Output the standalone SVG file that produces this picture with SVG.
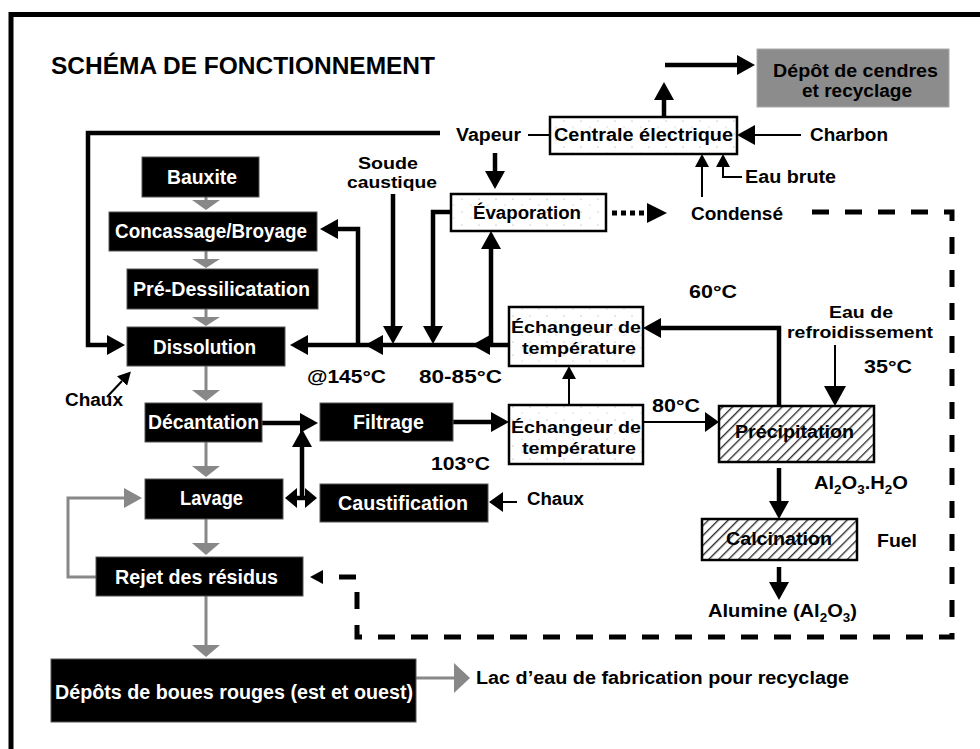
<svg xmlns="http://www.w3.org/2000/svg" width="980" height="749" viewBox="0 0 980 749">
<style>
text{font-family:"Liberation Sans",Arial,sans-serif;font-weight:bold;}
.nb{fill:#000;stroke:#555;stroke-width:1;}
.nt{fill:#fff;font-size:20px;}
.at{fill:#000;font-size:18px;}
.sm{font-size:16.5px;}
.wb{fill:url(#stip);stroke:#000;stroke-width:2.5;}
.hb{fill:url(#hatch);stroke:#000;stroke-width:2.5;}
.ln{fill:none;stroke:#000;stroke-width:4.5;}
.tn{fill:none;stroke:#000;stroke-width:2;}
.gl{fill:none;stroke:#888;stroke-width:3;}
.ds{fill:none;stroke:#000;stroke-width:5;stroke-dasharray:17 16;}
.dt{fill:none;stroke:#000;stroke-width:5;stroke-dasharray:5 4;}
.gh{fill:#888;}
</style>
<defs>
<marker id="ah" markerUnits="userSpaceOnUse" viewBox="0 0 18 20" markerWidth="18" markerHeight="20" refX="0" refY="10" orient="auto"><path d="M0,0 L18,10 L0,20 z" fill="#000"/></marker>
<marker id="ahs" markerUnits="userSpaceOnUse" viewBox="0 0 13 14" markerWidth="13" markerHeight="14" refX="0" refY="7" orient="auto"><path d="M0,0 L13,7 L0,14 z" fill="#000"/></marker>
<marker id="ahm" markerUnits="userSpaceOnUse" viewBox="0 0 14 20" markerWidth="14" markerHeight="20" refX="0" refY="10" orient="auto"><path d="M0,0 L14,10 L0,20 z" fill="#000"/></marker>
<marker id="ahl" markerUnits="userSpaceOnUse" viewBox="0 0 20 22" markerWidth="20" markerHeight="22" refX="0" refY="11" orient="auto"><path d="M0,0 L20,11 L0,22 z" fill="#000"/></marker>
<marker id="ahg" markerUnits="userSpaceOnUse" viewBox="0 0 18 20" markerWidth="18" markerHeight="20" refX="0" refY="10" orient="auto"><path d="M0,0 L18,10 L0,20 z" fill="#888"/></marker>
<pattern id="stip" width="17" height="13" patternUnits="userSpaceOnUse"><rect width="17" height="13" fill="#fff"/><circle cx="3" cy="4" r="0.6" fill="#999"/><circle cx="12" cy="10" r="0.5" fill="#aaa"/></pattern>
<pattern id="hatch" width="7" height="7" patternUnits="userSpaceOnUse" patternTransform="rotate(45)"><rect width="7" height="7" fill="#fff"/><line x1="0.7" y1="0" x2="0.7" y2="7" stroke="#222" stroke-width="1.3"/></pattern>
</defs>
<rect width="980" height="749" fill="#fff"/>
<path d="M11,749 V14.5 H980" fill="none" stroke="#000" stroke-width="5"/>
<text x="51" y="74" font-size="23" textLength="384" lengthAdjust="spacingAndGlyphs" fill="#000">SCHÉMA DE FONCTIONNEMENT</text>

<g id="connectors">
<path class="ln" d="M440,133 H88 V345 H107" marker-end="url(#ah)"/>
<path class="tn" d="M528,135 H550"/>
<path class="ln" d="M495,153 V171" marker-end="url(#ah)"/>
<path class="ln" d="M664,117 V100" marker-end="url(#ah)"/>
<path class="ln" d="M665,65 H737" marker-end="url(#ah)"/>
<path class="tn" d="M801,135 H755" stroke-width="2.5" marker-end="url(#ah)"/>
<path class="tn" d="M702,197 V167" marker-end="url(#ahs)"/>
<path class="tn" d="M742,177 H723 V167" marker-end="url(#ahs)"/>
<path class="dt" d="M612,213 H647"/>
<polygon points="647,203 667,213 647,223" fill="#000"/>
<path class="ds" d="M812,212 H952 V637 H357 V577 H323" marker-end="url(#ahs)"/>
<path class="ln" d="M509,345 H308" marker-end="url(#ah)"/>
<polygon points="365,345 383,335 383,355" fill="#000"/>
<polygon points="472,345 490,335 490,355" fill="#000"/>
<path class="ln" d="M358,345 V229 H338" marker-end="url(#ah)"/>
<path class="ln" d="M393,194 V326" marker-end="url(#ah)"/>
<path class="ln" d="M452,212 H433 V326" marker-end="url(#ah)"/>
<path class="ln" d="M491,345 V249" marker-end="url(#ah)"/>
<path class="ln" d="M779,406 V328 H661" stroke-width="5" marker-end="url(#ah)"/>
<path class="tn" d="M835,345 V386" marker-end="url(#ahl)"/>
<path class="tn" d="M569,405 V379" marker-end="url(#ahs)"/>
<path class="tn" d="M643,422 H705" marker-end="url(#ahm)"/>
<path class="ln" d="M453,422 H491" stroke-width="5" marker-end="url(#ah)"/>
<path class="ln" d="M779,468 V501" marker-end="url(#ah)"/>
<path class="ln" d="M779,567 V582" marker-end="url(#ah)"/>
<path class="ln" d="M262,423 H300" marker-end="url(#ah)"/>
<path class="ln" d="M302,500 V447" marker-end="url(#ah)"/>
<path class="ln" d="M297,498 H307"/>
<polygon points="285,498 297,488 297,508" fill="#000"/>
<polygon points="317,498 305,488 305,508" fill="#000"/>
<path class="tn" d="M517,502 H503" stroke-width="2.5" marker-end="url(#ahm)"/>
<path class="tn" d="M107,397 L122,381" marker-end="url(#ahs)"/>
<path class="gl" d="M206,197 V201"/>
<polygon class="gh" points="192,200 220,200 206,210"/>
<path class="gl" d="M206,251 V260"/>
<polygon class="gh" points="192,259 220,259 206,268"/>
<path class="gl" d="M206,309 V318"/>
<polygon class="gh" points="192,317 220,317 206,326"/>
<path class="gl" d="M206,366 V391"/>
<polygon class="gh" points="192,390 220,390 206,401"/>
<path class="gl" d="M206,442 V467"/>
<polygon class="gh" points="192,466 220,466 206,477"/>
<path class="gl" d="M206,519 V544"/>
<polygon class="gh" points="192,543 220,543 206,555"/>
<path class="gl" d="M206,596 V646"/>
<polygon class="gh" points="192,645 220,645 206,657"/>
<path class="gl" d="M96,577 H68 V498 H124" marker-end="url(#ahg)"/>
<path class="gl" d="M416,678 H455"/>
<polygon class="gh" points="454,663 470,678 454,693"/>
</g>

<g id="bauxite"><rect class="nb" x="142" y="157" width="117" height="40"/><text class="nt" x="167" y="184" textLength="70" lengthAdjust="spacingAndGlyphs">Bauxite</text></g>
<g id="concassage"><rect class="nb" x="109" y="212" width="208" height="39"/><text class="nt" x="115" y="238" textLength="192" lengthAdjust="spacingAndGlyphs">Concassage/Broyage</text></g>
<g id="predessil"><rect class="nb" x="127" y="269" width="191" height="40"/><text class="nt" x="133" y="296" textLength="177" lengthAdjust="spacingAndGlyphs">Pré-Dessilicatation</text></g>
<g id="dissolution"><rect class="nb" x="127" y="327" width="158" height="39"/><text class="nt" x="153" y="354" textLength="103" lengthAdjust="spacingAndGlyphs">Dissolution</text></g>
<g id="decantation"><rect class="nb" x="145" y="403" width="117" height="39"/><text class="nt" x="148" y="429" textLength="111" lengthAdjust="spacingAndGlyphs">Décantation</text></g>
<g id="filtrage"><rect class="nb" x="320" y="403" width="133" height="38"/><text class="nt" x="353" y="429" textLength="71" lengthAdjust="spacingAndGlyphs">Filtrage</text></g>
<g id="lavage"><rect class="nb" x="145" y="479" width="138" height="40"/><text class="nt" x="180" y="505" textLength="63" lengthAdjust="spacingAndGlyphs">Lavage</text></g>
<g id="caustification"><rect class="nb" x="320" y="484" width="168" height="38"/><text class="nt" x="338" y="510" textLength="130" lengthAdjust="spacingAndGlyphs">Caustification</text></g>
<g id="rejet"><rect class="nb" x="96" y="557" width="207" height="39"/><text class="nt" x="115" y="584" textLength="163" lengthAdjust="spacingAndGlyphs">Rejet des résidus</text></g>
<g id="depots"><rect class="nb" x="51" y="659" width="365" height="63"/><text class="nt" x="55" y="699" textLength="358" lengthAdjust="spacingAndGlyphs">Dépôts de boues rouges (est et ouest)</text></g>

<g id="cendres"><rect x="757" y="49" width="192" height="58" fill="#8c8c8c" stroke="#aaa" stroke-width="1"/><text class="at" x="773" y="77" textLength="165" lengthAdjust="spacingAndGlyphs">Dépôt de cendres</text><text class="at" x="802" y="97" textLength="110" lengthAdjust="spacingAndGlyphs">et recyclage</text></g>
<g id="centrale"><rect class="wb" x="550" y="117" width="187" height="37"/><text class="at" x="554" y="141" textLength="179" lengthAdjust="spacingAndGlyphs">Centrale électrique</text></g>
<g id="evaporation"><rect class="wb" x="451" y="194" width="155" height="37"/><text class="at" x="473" y="219" textLength="108" lengthAdjust="spacingAndGlyphs">Évaporation</text></g>
<g id="echangeur1"><rect class="wb" x="509" y="307" width="134" height="59"/><text class="at sm" x="511" y="333" textLength="130" lengthAdjust="spacingAndGlyphs">Échangeur de</text><text class="at sm" x="522" y="354" textLength="114" lengthAdjust="spacingAndGlyphs">température</text></g>
<g id="echangeur2"><rect class="wb" x="509" y="405" width="134" height="59"/><text class="at sm" x="511" y="433" textLength="130" lengthAdjust="spacingAndGlyphs">Échangeur de</text><text class="at sm" x="522" y="454" textLength="114" lengthAdjust="spacingAndGlyphs">température</text></g>
<g id="precipitation"><rect class="hb" x="719" y="406" width="155" height="56"/><text class="at" x="735" y="438" textLength="119" lengthAdjust="spacingAndGlyphs">Précipitation</text></g>
<g id="calcination"><rect class="hb" x="702" y="519" width="155" height="41"/><text class="at" x="726" y="545" textLength="106" lengthAdjust="spacingAndGlyphs">Calcination</text></g>

<g id="labels">
<text class="at" x="456" y="141" textLength="65" lengthAdjust="spacingAndGlyphs">Vapeur</text>
<text class="at" x="810" y="141" textLength="78" lengthAdjust="spacingAndGlyphs">Charbon</text>
<text class="at" x="745" y="183" textLength="91" lengthAdjust="spacingAndGlyphs">Eau brute</text>
<text class="at" x="691" y="220" textLength="92" lengthAdjust="spacingAndGlyphs">Condensé</text>
<text class="at sm" x="358" y="169" textLength="60" lengthAdjust="spacingAndGlyphs">Soude</text>
<text class="at sm" x="347" y="188" textLength="90" lengthAdjust="spacingAndGlyphs">caustique</text>
<text class="at" x="307" y="383" textLength="79" lengthAdjust="spacingAndGlyphs">@145°C</text>
<text class="at" x="419" y="383" textLength="83" lengthAdjust="spacingAndGlyphs">80-85°C</text>
<text class="at" x="431" y="470" textLength="59" lengthAdjust="spacingAndGlyphs">103°C</text>
<text class="at" x="65" y="406" textLength="58" lengthAdjust="spacingAndGlyphs">Chaux</text>
<text class="at" x="689" y="298" textLength="48" lengthAdjust="spacingAndGlyphs">60°C</text>
<text class="at sm" x="829" y="318" textLength="64" lengthAdjust="spacingAndGlyphs">Eau de</text>
<text class="at sm" x="787" y="338" textLength="146" lengthAdjust="spacingAndGlyphs">refroidissement</text>
<text class="at" x="864" y="373" textLength="48" lengthAdjust="spacingAndGlyphs">35°C</text>
<text class="at" x="652" y="412" textLength="48" lengthAdjust="spacingAndGlyphs">80°C</text>
<text class="at" x="814" y="489" textLength="94" lengthAdjust="spacingAndGlyphs">Al<tspan dy="5" font-size="12">2</tspan><tspan dy="-5">O</tspan><tspan dy="5" font-size="12">3</tspan><tspan dy="-5">.H</tspan><tspan dy="5" font-size="12">2</tspan><tspan dy="-5">O</tspan></text>
<text class="at" x="527" y="505" textLength="57" lengthAdjust="spacingAndGlyphs">Chaux</text>
<text class="at" x="877" y="547" textLength="40" lengthAdjust="spacingAndGlyphs">Fuel</text>
<text class="at" x="708" y="617" textLength="149" lengthAdjust="spacingAndGlyphs">Alumine (Al<tspan dy="5" font-size="12">2</tspan><tspan dy="-5">O</tspan><tspan dy="5" font-size="12">3</tspan><tspan dy="-5">)</tspan></text>
<text class="at" x="476" y="684" textLength="373" lengthAdjust="spacingAndGlyphs">Lac d’eau de fabrication pour recyclage</text>
</g>
</svg>
